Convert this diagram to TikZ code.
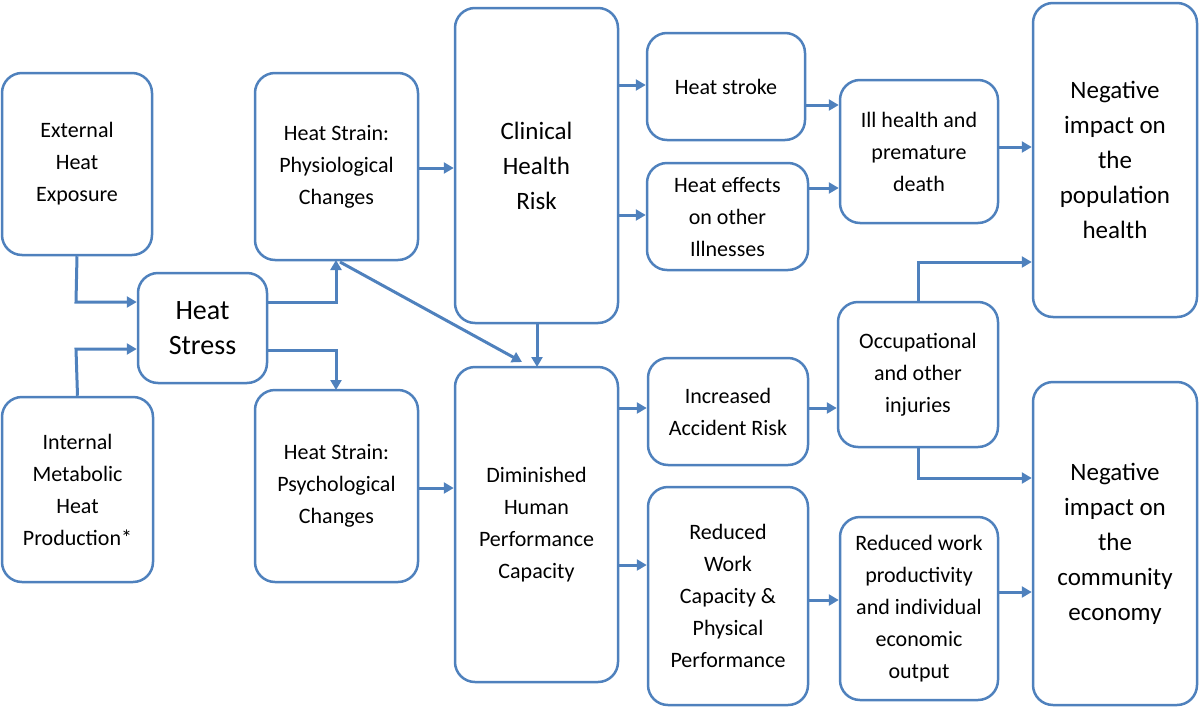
\documentclass[tikz,border=0pt]{standalone}
\usepackage{fontspec}
\setmainfont{Carlito}
\usetikzlibrary{arrows.meta}
\definecolor{bl}{HTML}{4F81BD}
\begin{document}
\begin{tikzpicture}[x=1pt,y=-1pt,
 box/.style={draw=bl,line width=2.5pt,rounded corners=20pt,align=center,inner sep=0pt,font=\fontsize{22}{32}\selectfont},
 big/.style={box,font=\fontsize{25}{35}\selectfont},
 arr/.style={draw=bl,line width=3pt,-{Triangle[length=10pt,width=11pt]}}]
\useasboundingbox (0,0) rectangle (1200,726);
\newcommand\bx[7][box]{\node[#1,minimum width=#4-#2,minimum height=#5-#3] (#6) at ({(#2+#4)/2},{(#3+#5)/2}) {#7};}
\bx{2}{73}{152}{255}{ext}{External\\Heat\\Exposure}
\bx{2}{397}{153}{582}{int}{Internal\\Metabolic\\Heat\\Production*}
\bx[big]{138}{273}{267}{383}{hs}{\fontsize{28}{38}\selectfont Heat\\\fontsize{28}{38}\selectfont Stress}
\bx{255}{73}{418}{260}{phy}{Heat Strain:\\Physiological\\Changes}
\bx{255}{390}{418}{582}{psy}{Heat Strain:\\Psychological\\Changes}
\bx[big]{455}{8}{618}{323}{cli}{Clinical\\Health\\Risk}
\bx{455}{367}{618}{682}{dim}{Diminished\\Human\\Performance\\Capacity}
\bx{647}{33}{805}{140}{hst}{Heat stroke}
\bx{647}{163}{808}{270}{hef}{Heat effects\\on other\\Illnesses}
\bx{648}{358}{808}{465}{acc}{Increased\\Accident Risk}
\bx{648}{487}{808}{705}{rwc}{Reduced\\Work\\Capacity \&\\Physical\\Performance}
\bx{840}{80}{998}{223}{ill}{Ill health and\\premature\\death}
\bx{838}{302}{998}{447}{occ}{Occupational\\and other\\injuries}
\bx{840}{517}{998}{700}{rwp}{Reduced work\\productivity\\and individual\\economic\\output}
\bx[big]{1033}{3}{1197}{317}{pop}{Negative\\impact on\\the\\population\\health}
\bx[big]{1033}{382}{1197}{705}{eco}{Negative\\impact on\\the\\community\\economy}
\draw[arr] (ext.south) -- (76,302) -- (hs.west|-0,302);
\draw[arr] (int.north) -- (76,349) -- (hs.west|-0,349);
\draw[arr] (hs.east|-0,302) -- (336,302) -- (336,260);
\draw[arr] (hs.east|-0,350) -- (336,350) -- (336,390);
\draw[arr] (340,262) -- (522,362);
\draw[arr] (phy.east|-0,168) -- (cli.west|-0,168);
\draw[arr] (psy.east|-0,488) -- (dim.west|-0,488);
\draw[arr] (537,323) -- (537,367);
\draw[arr] (cli.east|-0,85) -- (hst.west|-0,85);
\draw[arr] (cli.east|-0,215) -- (hef.west|-0,215);
\draw[arr] (dim.east|-0,408) -- (acc.west|-0,408);
\draw[arr] (dim.east|-0,565) -- (rwc.west|-0,565);
\draw[arr] (hst.east|-0,105) -- (ill.west|-0,105);
\draw[arr] (hef.east|-0,188) -- (ill.west|-0,188);
\draw[arr] (acc.east|-0,408) -- (occ.west|-0,408);
\draw[arr] (rwc.east|-0,600) -- (rwp.west|-0,600);
\draw[arr] (ill.east|-0,147) -- (pop.west|-0,147);
\draw[arr] (918,302) -- (918,262) -- (pop.west|-0,262);
\draw[arr] (918,447) -- (918,478) -- (eco.west|-0,478);
\draw[arr] (rwp.east|-0,592) -- (eco.west|-0,592);
\end{tikzpicture}
\end{document}
